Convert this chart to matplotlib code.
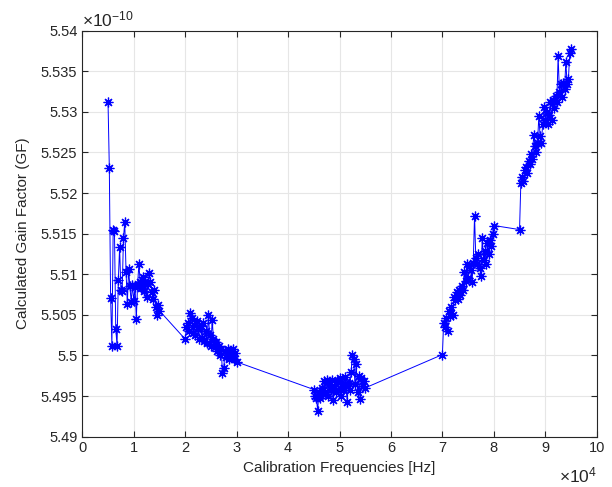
import matplotlib
matplotlib.use('Agg')
import matplotlib.pyplot as plt
from matplotlib.ticker import FuncFormatter

# Data: frequencies [Hz] and gain factor (units of 1e-10), five sweeps
freq_1 = [5000, 5250, 5500, 5750, 6000, 6250, 6500, 6750, 7000, 7250,
          7500, 7750, 8000, 8250, 8500, 8750, 9000, 9250, 9500, 9750,
          10000, 10250, 10500, 10750, 11000, 11250, 11500, 11750, 12000, 12250,
          12500, 12750, 13000, 13250, 13500, 13750, 14000, 14250, 14500, 14750,
          15000]
gf_1 = [5.5312, 5.5231, 5.5071, 5.5012, 5.5155, 5.5153, 5.5033, 5.5012, 5.5093, 5.5133,
        5.5081, 5.5079, 5.5145, 5.5164, 5.5103, 5.5063, 5.5106, 5.5085, 5.5066, 5.5087,
        5.5067, 5.5084, 5.5045, 5.5088, 5.5112, 5.5091, 5.5083, 5.5097, 5.5079, 5.5090,
        5.5072, 5.5088, 5.5102, 5.5091, 5.5078, 5.5070, 5.5081, 5.5060, 5.5050, 5.5062,
        5.5055]

freq_2 = [20000, 20250, 20500, 20750, 21000, 21250, 21500, 21750, 22000, 22250,
          22500, 22750, 23000, 23250, 23500, 23750, 24000, 24250, 24500, 24750,
          25000, 25250, 25500, 25750, 26000, 26250, 26500, 26750, 27000, 27250,
          27500, 27750, 28000, 28250, 28500, 28750, 29000, 29250, 29500, 29750,
          30000]
gf_2 = [5.5020, 5.5035, 5.5040, 5.5030, 5.5052, 5.5046, 5.5028, 5.5038, 5.5025, 5.5042,
        5.5032, 5.5020, 5.5036, 5.5022, 5.5040, 5.5018, 5.5030, 5.5015, 5.5050, 5.5025,
        5.5012, 5.5044, 5.5020, 5.5010, 5.5016, 5.5005, 5.5012, 5.5000, 5.5008, 5.4978,
        5.4985, 5.5005, 5.4998, 5.5008, 5.4995, 5.5006, 5.4999, 5.5008, 5.4996, 5.5003,
        5.4992]

freq_3 = [45000, 45250, 45500, 45750, 46000, 46250, 46500, 46750, 47000, 47250,
          47500, 47750, 48000, 48250, 48500, 48750, 49000, 49250, 49500, 49750,
          50000, 50250, 50500, 50750, 51000, 51250, 51500, 51750, 52000, 52250,
          52500, 52750, 53000, 53250, 53500, 53750, 54000, 54250, 54500, 54750,
          55000]
gf_3 = [5.4958, 5.4950, 5.4948, 5.4932, 5.4955, 5.4948, 5.4960, 5.4952, 5.4968, 5.4955,
        5.4970, 5.4950, 5.4965, 5.4958, 5.4970, 5.4945, 5.4962, 5.4955, 5.4968, 5.4958,
        5.4972, 5.4950, 5.4965, 5.4958, 5.4974, 5.4962, 5.4943, 5.4966, 5.4958, 5.4980,
        5.5000, 5.4995, 5.4965, 5.4990, 5.4955, 5.4975, 5.4946, 5.4972, 5.4962, 5.4968,
        5.4960]

freq_4 = [70000, 70250, 70500, 70750, 71000, 71250, 71500, 71750, 72000, 72250,
          72500, 72750, 73000, 73250, 73500, 73750, 74000, 74250, 74500, 74750,
          75000, 75250, 75500, 75750, 76000, 76250, 76500, 76750, 77000, 77250,
          77500, 77750, 78000, 78250, 78500, 78750, 79000, 79250, 79500, 79750,
          80000]
gf_4 = [5.5001, 5.5040, 5.5035, 5.5046, 5.5030, 5.5055, 5.5048, 5.5060, 5.5050, 5.5072,
        5.5068, 5.5078, 5.5070, 5.5080, 5.5075, 5.5086, 5.5080, 5.5103, 5.5092, 5.5112,
        5.5095, 5.5110, 5.5105, 5.5090, 5.5114, 5.5172, 5.5120, 5.5112, 5.5125, 5.5108,
        5.5098, 5.5145, 5.5118, 5.5128, 5.5112, 5.5138, 5.5125, 5.5142, 5.5135, 5.5150,
        5.5160]

freq_5 = [85000, 85250, 85500, 85750, 86000, 86250, 86500, 86750, 87000, 87250,
          87500, 87750, 88000, 88250, 88500, 88750, 89000, 89250, 89500, 89750,
          90000, 90250, 90500, 90750, 91000, 91250, 91500, 91750, 92000, 92250,
          92500, 92750, 93000, 93250, 93500, 93750, 94000, 94250, 94500, 94750,
          95000]
gf_5 = [5.5155, 5.5212, 5.5220, 5.5215, 5.5228, 5.5232, 5.5225, 5.5240, 5.5236, 5.5248,
        5.5242, 5.5272, 5.5258, 5.5250, 5.5262, 5.5295, 5.5270, 5.5262, 5.5285, 5.5306,
        5.5290, 5.5300, 5.5285, 5.5296, 5.5312, 5.5290, 5.5315, 5.5305, 5.5320, 5.5312,
        5.5369, 5.5325, 5.5334, 5.5318, 5.5336, 5.5328, 5.5362, 5.5334, 5.5340, 5.5372,
        5.5378]

freqs = freq_1 + freq_2 + freq_3 + freq_4 + freq_5
gain = gf_1 + gf_2 + gf_3 + gf_4 + gf_5

plt.rcParams['font.family'] = ['Liberation Sans', 'DejaVu Sans']
plt.rcParams['mathtext.fontset'] = 'custom'
plt.rcParams['mathtext.rm'] = 'Liberation Sans'
plt.rcParams['mathtext.it'] = 'Liberation Sans:italic'

fig = plt.figure(figsize=(6.12, 4.87), dpi=100)
ax = fig.add_axes([0.1345, 0.1035, 0.8405, 0.8335])

ax.plot(freqs, gain, color='#0000ff', linewidth=0.7,
        marker=(8, 2, 0), markersize=7, markeredgewidth=0.9)

ax.set_xlim(0, 100000)
ax.set_ylim(5.49, 5.54)
ax.set_xticks([i * 10000 for i in range(11)])
ax.set_yticks([5.49 + 0.005 * i for i in range(11)])
ax.xaxis.set_major_formatter(FuncFormatter(lambda v, p: '%g' % round(v / 1e4, 4)))
ax.yaxis.set_major_formatter(FuncFormatter(lambda v, p: '%g' % round(v, 4)))

ax.grid(True, color='#e6e6e6', linewidth=0.8)
ax.set_axisbelow(True)
for s in ax.spines.values():
    s.set_color('#262626')
    s.set_linewidth(0.8)
ax.tick_params(direction='in', top=True, right=True, length=4,
               labelsize=10.5, colors='#262626', width=0.8)

ax.set_xlabel('Calibration Frequencies [Hz]', fontsize=11, color='#262626', labelpad=4)
ax.set_ylabel('Calculated Gain Factor (GF)', fontsize=11, color='#262626', labelpad=8)

ax.text(0.0, 1.004, r'$\times\mathrm{10^{-10}}$', transform=ax.transAxes,
        fontsize=12.5, color='#262626', ha='left', va='bottom')
ax.text(1.0, -0.072, r'$\times\mathrm{10^{4}}$', transform=ax.transAxes,
        fontsize=12.5, color='#262626', ha='right', va='top')

fig.savefig('out.png', dpi=100)
